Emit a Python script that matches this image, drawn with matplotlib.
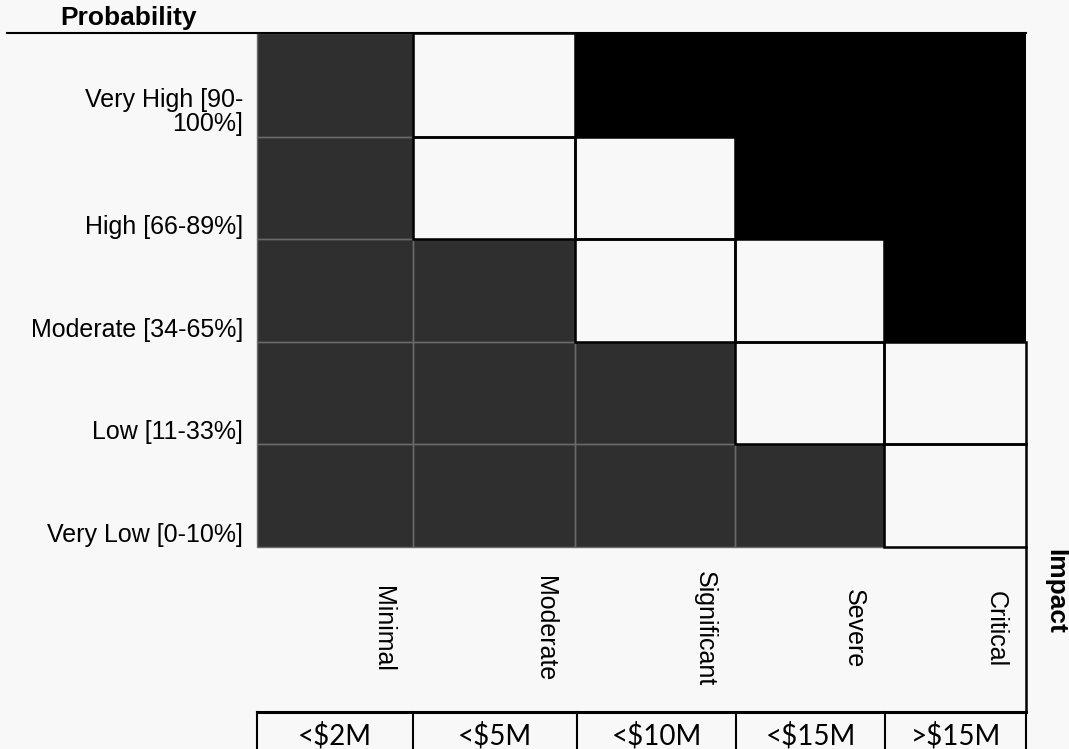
import matplotlib
matplotlib.use("Agg")
import matplotlib.pyplot as plt
from matplotlib.patches import Rectangle
from matplotlib.colors import ListedColormap

# --- data -------------------------------------------------------------
probability_labels = ["Very High [90-\n100%]", "High [66-89%]", "Moderate [34-65%]",
                      "Low [11-33%]", "Very Low [0-10%]"]
impact_labels = ["Minimal", "Moderate", "Significant", "Severe", "Critical"]
cost_labels = ["<$2M", "<$5M", "<$10M", "<$15M", ">$15M"]
# risk level per cell (0 = low, 1 = medium, 2 = high); rows top -> bottom
risk_levels = [
    [0, 1, 2, 2, 2],
    [0, 1, 1, 2, 2],
    [0, 0, 1, 1, 2],
    [0, 0, 0, 1, 1],
    [0, 0, 0, 0, 1],
]

# --- layout (pixels) --------------------------------------------------
W, H = 1069, 749
col_edges = [257, 413, 575, 735, 884, 1026]
row_edges = [33, 137, 239, 342, 444, 547]
box_edges = [257, 413, 577, 736, 885, 1026]
box_top = 712

BG = "#f8f8f8"
level_colors = ["#2f2f2f", "#f8f8f8", "#000000"]
cmap = ListedColormap(level_colors)

fig = plt.figure(figsize=(W / 100, H / 100), dpi=100, facecolor=BG)
ax = fig.add_axes([0, 0, 1, 1])
ax.set_xlim(0, W)
ax.set_ylim(H, 0)
ax.axis("off")
ax.set_facecolor(BG)

# coloured matrix
ax.pcolormesh(col_edges, row_edges, risk_levels, cmap=cmap, vmin=-0.5, vmax=2.5)

# cell outlines: faint grey between dark cells, black around light cells
for r, row in enumerate(risk_levels):
    for c, lvl in enumerate(row):
        x0, x1 = col_edges[c], col_edges[c + 1]
        y0, y1 = row_edges[r], row_edges[r + 1]
        if lvl == 0:
            ax.add_patch(Rectangle((x0, y0), x1 - x0, y1 - y0, fill=False,
                                   edgecolor="#6a6a6a", lw=1.0, zorder=3))
for r, row in enumerate(risk_levels):
    for c, lvl in enumerate(row):
        x0, x1 = col_edges[c], col_edges[c + 1]
        y0, y1 = row_edges[r], row_edges[r + 1]
        if lvl == 1:
            ax.add_patch(Rectangle((x0, y0), x1 - x0, y1 - y0, fill=False,
                                   edgecolor="#000000", lw=1.8, zorder=4))

# header rule under "Probability"
ax.plot([7, col_edges[-1]], [row_edges[0], row_edges[0]], color="black", lw=1.5, zorder=5)
ax.text(60, 18, "Probability", fontsize=19, fontweight="bold",
        family="Liberation Sans", ha="left", va="center")

# row labels (bottom-aligned in each row)
for r, lab in enumerate(probability_labels):
    nlines = lab.count("\n") + 1
    y = row_edges[r + 1] - 12 - (nlines - 1) * 13
    ax.text(243, y, lab, fontsize=18, family="Liberation Sans",
            ha="right", va="center", linespacing=1.0, multialignment="right")

# impact labels (rotated) below the matrix
for c, lab in enumerate(impact_labels):
    ax.text(col_edges[c + 1] - 30, 629, lab, fontsize=18, family="Liberation Sans",
            rotation=270, ha="center", va="center")

# frame of the impact label area
ax.plot([col_edges[-1], col_edges[-1]], [row_edges[-1], box_top], color="black", lw=1.8)
ax.plot([box_edges[0], box_edges[-1]], [box_top, box_top], color="black", lw=2.2)
for x in box_edges:
    ax.plot([x, x], [box_top, H + 5], color="black", lw=1.5)

# cost range boxes
for c, lab in enumerate(cost_labels):
    xc = (box_edges[c] + box_edges[c + 1]) / 2
    ax.text(xc, 744, lab, fontsize=20, family="Lato", ha="center", va="baseline")

ax.text(1055, 591, "Impact", fontsize=19, fontweight="bold", family="Liberation Sans",
        rotation=270, ha="center", va="center")

fig.savefig("out.png", dpi=100, facecolor=BG)
